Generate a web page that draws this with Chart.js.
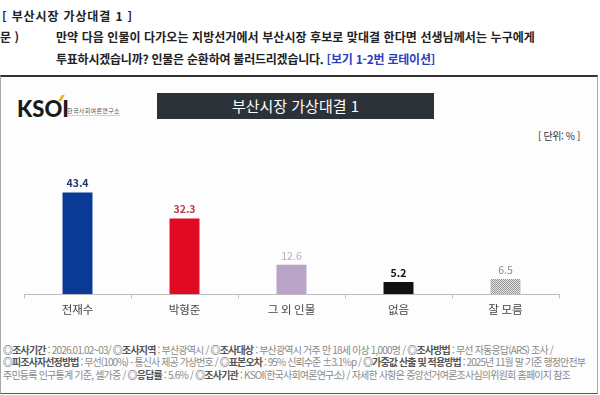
<!DOCTYPE html>
<html lang="ko">
<head>
<meta charset="utf-8">
<script src="https://cdn.jsdelivr.net/npm/chart.js@4.4.1/dist/chart.umd.min.js"></script>
<style>
  html, body { margin: 0; padding: 0; background: #fff; }
  body { width: 600px; height: 395px; position: relative; overflow: hidden;
         font-family: "Noto Sans CJK KR", "Noto Sans", sans-serif; }
  .q { position: absolute; font-size: 12px; line-height: 16px; font-weight: bold; color: #222; white-space: nowrap; }
  .q .blue { color: #2b3fc2; }
  .frame { position: absolute; left: 0; top: 75px; width: 596px; height: 316px;
           border-top: 2px solid #333; border-left: 1px solid #aaa; border-right: 1px solid #aaa;
           border-bottom: 1px solid #555; background: #fdfdfd; }
  .logo { position: absolute; left: 17px; top: 98px; font-family: "Lato", sans-serif; font-weight: 900;
          font-size: 22px; line-height: 22px; color: #1a1a1a; }
  .logo .acc { position: absolute; left: 43px; top: -3px; width: 3px; height: 6px; background: #e8b21c; transform: skewX(-30deg); }
  .logo-sub { position: absolute; left: 67px; top: 107px; font-size: 6px; line-height: 8px; color: #555;
              border-bottom: 1px solid #d0d0d0; white-space: nowrap; }
  .title { position: absolute; left: 157px; top: 93px; width: 277px; height: 26px; background: #2d3239;
           color: #fff; font-size: 15px; text-align: center; line-height: 26px; }
  .unit { position: absolute; left: 538px; top: 130px; font-size: 10px; line-height: 12px; color: #333; white-space: nowrap; }
  .wrap { position: absolute; left: 0; top: 150px; width: 600px; height: 180px; }
  .foot { position: absolute; left: 3px; font-size: 10px; line-height: 12px; color: #8a8a8a; white-space: nowrap; }
  .foot b { color: #555; }
</style>
</head>
<body>
<div class="q" style="top:8px; left:2px;" data-w="131">[ 부산시장 가상대결 1 ]</div>
<div class="q" style="top:29px; left:0;">문 )</div>
<div class="q" style="top:29px; left:56px;" data-w="479">만약 다음 인물이 다가오는 지방선거에서 부산시장 후보로 맞대결 한다면 선생님께서는 누구에게</div>
<div class="q" style="top:51px; left:56px;" data-w="379">투표하시겠습니까? 인물은 순환하여 불러드리겠습니다. <span class="blue">[보기 1-2번 로테이션]</span></div>

<div class="frame"></div>
<div class="logo">KSOI<span class="acc"></span></div>
<div class="logo-sub" data-w="53">한국사회여론연구소</div>
<div class="title">부산시장 가상대결 1</div>
<div class="unit" data-w="42">[ 단위: % ]</div>

<div class="wrap"><canvas id="barChart"></canvas></div>

<div class="foot" style="top:344px;" data-w="550"><b>◎조사기간</b> : 2026.01.02~03/ <b>◎조사지역</b> : 부산광역시 / <b>◎조사대상</b> : 부산광역시 거주 만 18세 이상 1,000명 / <b>◎조사방법</b> : 무선 자동응답(ARS) 조사 /</div>
<div class="foot" style="top:356px;" data-w="582"><b>◎피조사자선정방법</b> : 무선(100%) - 통신사 제공 가상번호 / <b>◎표본오차</b> : 95% 신뢰수준 ±3.1%p / <b>◎가중값 산출 및 적용방법</b> : 2025년 11월 말 기준 행정안전부</div>
<div class="foot" style="top:369px;" data-w="567">주민등록 인구통계 기준, 셀가중 / <b>◎응답률</b> : 5.6% / <b>◎조사기관</b> : KSOI(한국사회여론연구소) / 자세한 사항은 중앙선거여론조사심의위원회 홈페이지 참조</div>

<script>
// Data
const categories = ['전재수', '박형준', '그 외 인물', '없음', '잘 모름'];
const values = [43.4, 32.3, 12.6, 5.2, 6.5];

// Bar / label styling
const barColors = ['#0b3a96', '#e00a24', '#b9a4c8', '#111111', null];
const labelColors = ['#24396a', '#c33a4b', '#baa9c8', '#111111', '#8a8a8a'];
const labelBold = [true, true, false, true, false];

// stretch/squeeze text lines to the widths they have in the picture
function fitText() {
    document.querySelectorAll('[data-w]').forEach(el => {
        el.style.letterSpacing = '0px';
        const w = el.getBoundingClientRect().width;
        const n = el.textContent.length;
        el.style.letterSpacing = ((+el.dataset.w - w) / n) + 'px';
    });
}

// Dotted gray fill for the last bar
function makeHatch() {
    const c = document.createElement('canvas');
    c.width = 2; c.height = 2;
    const g = c.getContext('2d');
    g.fillStyle = '#e2e2e2';
    g.fillRect(0, 0, 2, 2);
    g.fillStyle = '#979797';
    g.fillRect(0, 0, 1, 1);
    g.fillRect(1, 1, 1, 1);
    return g.createPattern(c, 'repeat');
}

const valueLabels = {
    id: 'valueLabels',
    afterDatasetsDraw(chart) {
        const ctx = chart.ctx;
        const meta = chart.getDatasetMeta(0);
        ctx.save();
        ctx.textAlign = 'center';
        ctx.textBaseline = 'middle';
        meta.data.forEach((bar, i) => {
            ctx.font = (labelBold[i] ? 'bold ' : '') + '10.5px "Noto Sans CJK KR", sans-serif';
            ctx.fillStyle = labelColors[i];
            ctx.fillText(values[i].toFixed(1), bar.x, bar.y - 9);
        });
        ctx.restore();
    }
};

document.addEventListener('DOMContentLoaded', function() {
    fitText();
    document.fonts.ready.then(fitText);

    const ctx = document.getElementById('barChart').getContext('2d');
    const hatch = makeHatch();

    new Chart(ctx, {
        type: 'bar',
        data: {
            labels: categories,
            datasets: [{
                data: values,
                backgroundColor: barColors.map(c => c || hatch),
                barPercentage: 0.56,
                categoryPercentage: 0.5
            }]
        },
        options: {
            responsive: true,
            maintainAspectRatio: false,
            animation: false,
            layout: {
                padding: { top: 27, left: 24, right: 41, bottom: 8 }
            },
            scales: {
                x: {
                    grid: {
                        display: true,
                        drawOnChartArea: false,
                        drawTicks: true,
                        tickLength: 4,
                        color: '#bdbdbd',
                        offset: true
                    },
                    border: { display: true, color: '#bdbdbd', width: 1 },
                    ticks: {
                        color: '#444',
                        padding: 5,
                        font: { size: 11.5, family: '"Noto Sans CJK KR", sans-serif' }
                    }
                },
                y: {
                    display: false,
                    min: 0,
                    max: 50
                }
            },
            plugins: {
                legend: { display: false },
                tooltip: { enabled: false }
            }
        },
        plugins: [valueLabels]
    });
});
</script>
</body>
</html>
